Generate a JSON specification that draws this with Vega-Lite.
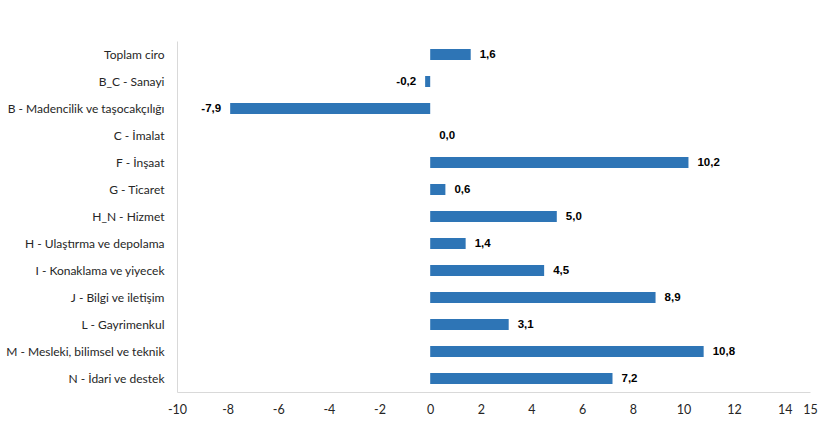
{
  "$schema": "https://vega.github.io/schema/vega-lite/v6.json",
  "width": 633,
  "height": 351,
  "autosize": {"type": "none"},
  "padding": {"left": 177, "top": 41, "right": 10, "bottom": 30},
  "background": "white",
  "config": {
    "view": {"stroke": null},
    "locale": {"number": {"decimal": ",", "thousands": ".", "grouping": [3], "currency": ["", " TL"], "minus": "-"}}
  },
  "data": {"values": [
    {"cat": "Toplam ciro", "v": 1.6},
    {"cat": "B_C - Sanayi", "v": -0.2},
    {"cat": "B - Madencilik ve taşocakçılığı", "v": -7.9},
    {"cat": "C - İmalat", "v": 0.0},
    {"cat": "F - İnşaat", "v": 10.2},
    {"cat": "G - Ticaret", "v": 0.6},
    {"cat": "H_N - Hizmet", "v": 5.0},
    {"cat": "H - Ulaştırma ve depolama", "v": 1.4},
    {"cat": "I - Konaklama ve yiyecek", "v": 4.5},
    {"cat": "J - Bilgi ve iletişim", "v": 8.9},
    {"cat": "L - Gayrimenkul", "v": 3.1},
    {"cat": "M - Mesleki, bilimsel ve teknik", "v": 10.8},
    {"cat": "N - İdari ve destek", "v": 7.2}
  ]},
  "encoding": {
    "y": {
      "field": "cat", "type": "nominal", "sort": null, "title": null,
      "scale": {"paddingInner": 0.6, "paddingOuter": 0.3},
      "axis": {"ticks": false, "domainColor": "#d9d9d9", "labelFont": "Lato", "labelFontSize": 12, "labelColor": "#262626", "labelPadding": 13, "labelLimit": 300}
    },
    "x": {
      "field": "v", "type": "quantitative", "title": null,
      "scale": {"domain": [-10, 15], "nice": false, "zero": false},
      "axis": {"values": [-10, -8, -6, -4, -2, 0, 2, 4, 6, 8, 10, 12, 14, 15], "format": "d", "grid": false, "ticks": false, "domainColor": "#d9d9d9", "labelFont": "Lato", "labelFontSize": 12.5, "labelColor": "#262626", "labelPadding": 11, "labelFlush": false}
    }
  },
  "layer": [
    {
      "mark": {"type": "bar", "color": "#2E75B6", "height": 11},
      "encoding": {"x2": {"datum": 0}}
    },
    {
      "transform": [{"filter": "datum.v >= 0"}],
      "mark": {"type": "text", "align": "left", "dx": 9, "font": "Liberation Sans", "fontWeight": "bold", "fontSize": 11.5, "color": "#000000"},
      "encoding": {"text": {"field": "v", "type": "quantitative", "format": ".1f"}}
    },
    {
      "transform": [{"filter": "datum.v < 0"}],
      "mark": {"type": "text", "align": "right", "dx": -9, "font": "Liberation Sans", "fontWeight": "bold", "fontSize": 11.5, "color": "#000000"},
      "encoding": {"text": {"field": "v", "type": "quantitative", "format": ".1f"}}
    }
  ]
}
